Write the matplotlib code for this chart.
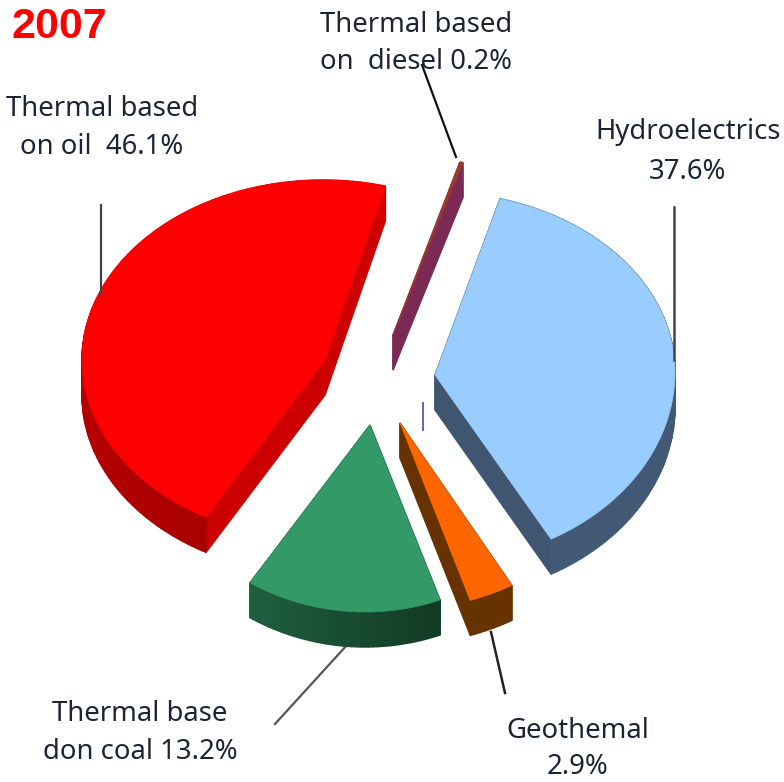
import numpy as np
import matplotlib.pyplot as plt
from matplotlib.colors import to_rgb
from matplotlib.patches import Polygon

# Energy shares, clockwise from the start angle
sources = ['diesel', 'hydro', 'geothermal', 'coal', 'oil']
shares = [0.2, 37.6, 2.9, 13.2, 46.1]

label_lines = [
    ['Thermal based', 'on  diesel 0.2%'],
    ['Hydroelectrics', '37.6%'],
    ['Geothemal', '2.9%'],
    ['Thermal base', 'don coal 13.2%'],
    ['Thermal based', 'on oil  46.1%'],
]

START_ANGLE = 15.0
DEPTH = 35

# apex x/y, ellipse center x/y, rx, ry above and below the center
shape = {
    'diesel': (393, 335, 393, 335, 258, 179, 179),
    'hydro': (435, 375, 435, 372, 240, 180, 191),
    'geothermal': (400, 423, 391, 406, 250, 205, 205),
    'coal': (370, 425, 365, 379, 237, 233, 233),
    'oil': (325, 360, 323, 360, 241, 180, 180),
}

# top face, inner side, rim from start of the arc, rim at end of the arc
colours = {
    'diesel': ('#9a3b2a', '#7a2a55', '#7a2a55', '#7a2a55'),
    'hydro': ('#99ccff', '#3f5570', '#3f5570', '#435a76'),
    'geothermal': ('#ff6600', '#663300', '#663300', '#663300'),
    'coal': ('#339966', '#1a4d33', '#123a24', '#1f5f3f'),
    'oil': ('#ff0000', '#cc0000', '#a80000', '#d80000'),
}

fig = plt.figure(figsize=(7.84, 7.82), dpi=100)
ax = fig.add_axes([0, 0, 1, 1])
ax.set_xlim(0, 784)
ax.set_ylim(782, 0)
ax.axis('off')


def rim_point(name, deg):
    # angle counted clockwise from the top of the pie
    ax0, ay0, cx, cy, rx, ry_up, ry_down = shape[name]
    t = np.radians(deg)
    ry = ry_up if np.cos(t) > 0 else ry_down
    return cx + rx * np.sin(t), cy - ry * np.cos(t)


def draw_quad(p, q, colour, z):
    pts = [p, q, (q[0], q[1] + DEPTH), (p[0], p[1] + DEPTH)]
    ax.add_patch(Polygon(pts, closed=True, fc=colour, ec=colour, lw=1.0, zorder=z))


angle = START_ANGLE
for name, share in zip(sources, shares):
    sweep = share * 3.6
    degs = np.linspace(angle, angle + sweep, max(int(sweep), 4))
    arc = [rim_point(name, d) for d in degs]
    apex = shape[name][:2]
    top, side, rim_a, rim_b = colours[name]

    # inner cut faces first, then the rim, then the top
    draw_quad(apex, arc[0], side, 2)
    draw_quad(apex, arc[-1], side, 2)
    a = np.array(to_rgb(rim_a))
    b = np.array(to_rgb(rim_b))
    for i in range(len(arc) - 1):
        mix = i / max(len(arc) - 2, 1)
        draw_quad(arc[i], arc[i + 1], tuple(a + (b - a) * mix), 3)
    ax.add_patch(Polygon([apex] + arc, closed=True, fc=top, ec=top, lw=0.5, zorder=4))
    angle += sweep

# Leader lines
ax.plot([101, 101], [205, 295], color='#444444', lw=1.6, zorder=5)
ax.plot([422, 456], [65, 157], color='#111111', lw=1.6, zorder=1)
ax.plot([674, 674], [207, 360], color='#444444', lw=1.8, zorder=5)
ax.plot([275, 347], [724, 645], color='#555555', lw=1.6, zorder=1)
ax.plot([491, 505], [632, 693], color='#222222', lw=1.8, zorder=1)
ax.plot([423, 423], [403, 430], color='#7b5ea7', lw=1.4, zorder=1)

# Labels
text_pos = {
    'diesel': (416, 25, 62),
    'hydro': (688, 132, 172),
    'geothermal': (578, 731, 767),
    'coal': (140, 714, 752),
    'oil': (102, 109, 147),
}
for name, lines in zip(sources, label_lines):
    x, y1, y2 = text_pos[name]
    for line, y in zip(lines, (y1, y2)):
        ax.text(x, y, line, ha='center', va='center', fontsize=19.8,
                family='Noto Sans', color='#1c2433', zorder=6)

ax.text(12, 27, '2007', ha='left', va='center', fontsize=31, fontweight='bold',
        family='Liberation Sans', color='#ff0000', zorder=6)

fig.savefig('out.png', dpi=100)
